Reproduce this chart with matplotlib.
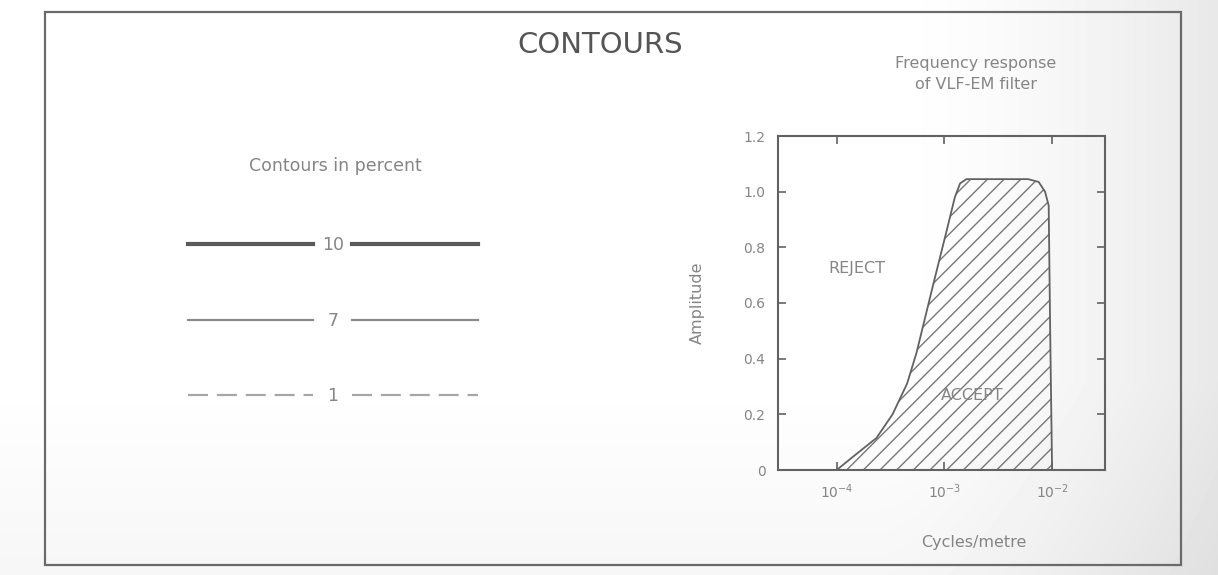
import numpy as np
import matplotlib
matplotlib.use('Agg')
import matplotlib.pyplot as plt
from matplotlib.ticker import FixedLocator, NullLocator

# filter response curve
freq = [1.0e-4, 1.41e-4, 2.34e-4, 3.3e-4, 4.5e-4, 5.5e-4, 7.8e-4, 1.05e-3,
        1.25e-3, 1.4e-3, 1.6e-3, 6.0e-3, 7.5e-3, 8.6e-3, 9.3e-3, 9.6e-3, 1.0e-2]
amp = [0.0, 0.047, 0.115, 0.2, 0.31, 0.42, 0.66, 0.86,
       0.98, 1.03, 1.045, 1.045, 1.035, 1.0, 0.95, 0.5, 0.0]

yticks = [0, 0.2, 0.4, 0.6, 0.8, 1.0, 1.2]
ytick_labels = ['0', '0.2', '0.4', '0.6', '0.8', '1.0', '1.2']
xticks = [1e-4, 1e-3, 1e-2]

# contour legend
levels = ['10', '7', '1']
level_widths = [3.0, 1.6, 1.6]
level_styles = ['-', '-', (0, (9, 4))]
level_colors = ['#5a5a5a', '#8a8a8a', '#a6a6a6']

line_c = '#626262'
text_c = '#858585'

plt.rcParams['hatch.linewidth'] = 1.0

W, H = 1218, 575
fig = plt.figure(figsize=(W / 100, H / 100), dpi=100)
fig.patch.set_facecolor('#fdfdfd')

# overlay in pixel units for the frame, heading and legend
over = fig.add_axes([0, 0, 1, 1], zorder=0)
over.set_xlim(0, W)
over.set_ylim(H, 0)
over.axis('off')

# faint scan shading towards the right and bottom
gx, gy = np.meshgrid(np.arange(W), np.arange(H))
shade = np.clip((gx - 880) / 338, 0, 1) ** 1.5 * 0.09 + np.clip((gy - 380) / 195, 0, 1) * 0.035
over.imshow(1 - shade, cmap='gray', vmin=0, vmax=1, extent=(0, W, H, 0),
            aspect='auto', zorder=-5, interpolation='bilinear')

over.add_patch(plt.Rectangle((45, 12), 1136, 553, fill=False, ec='#6a6a6a', lw=1.6))
over.text(600, 45, 'CONTOURS', ha='center', va='center', fontsize=21, color='#555555')
over.text(335, 166, 'Contours in percent', ha='center', va='center', fontsize=12.5, color=text_c)
for i, lev in enumerate(levels):
    y = 244 + i * 75.5
    over.plot([188, 313], [y, y], ls=level_styles[i], lw=level_widths[i], color=level_colors[i])
    over.plot([352, 478], [y, y], ls=level_styles[i], lw=level_widths[i], color=level_colors[i])
    over.text(333, y + 1, lev, ha='center', va='center', fontsize=12.5, color=text_c)

ax = fig.add_axes([778 / W, 1 - 470 / H, 327 / W, 334 / H], zorder=1)
ax.patch.set_alpha(0)
ax.set_xscale('log')
ax.set_xlim(2.85e-5, 3.1e-2)
ax.set_ylim(0, 1.2)
ax.fill_between(freq, amp, 0, facecolor='none', edgecolor='#777777', hatch='//', lw=0)
ax.plot(freq, amp, color=line_c, lw=1.3)

ax.xaxis.set_major_locator(FixedLocator(xticks))
ax.xaxis.set_minor_locator(NullLocator())
ax.set_yticks(yticks)
ax.set_yticklabels(ytick_labels)
ax.tick_params(direction='in', top=True, right=True, length=6, width=1.2,
               colors=line_c, labelcolor=text_c, labelsize=10, pad=9)
for s in ax.spines.values():
    s.set_color(line_c)
    s.set_linewidth(1.5)

ax.text(1.55e-4, 0.725, 'REJECT', ha='center', va='center', fontsize=11.5, color=text_c,
        bbox=dict(fc='none', ec='none'))
ax.text(1.8e-3, 0.266, 'ACCEPT', ha='center', va='center', fontsize=11.5, color=text_c)

ax.set_ylabel('Amplitude', fontsize=11.5, color=text_c)
ax.yaxis.set_label_coords(-0.225, 0.5)
ax.set_xlabel('Cycles/metre', fontsize=11.5, color=text_c)
ax.xaxis.set_label_coords(0.6, -0.195)
ax.text(0.605, 1.185, 'Frequency response\nof VLF-EM filter', transform=ax.transAxes,
        ha='center', va='center', fontsize=11.5, color=text_c, linespacing=1.5)

fig.savefig('out.png', dpi=100, facecolor=fig.get_facecolor())
